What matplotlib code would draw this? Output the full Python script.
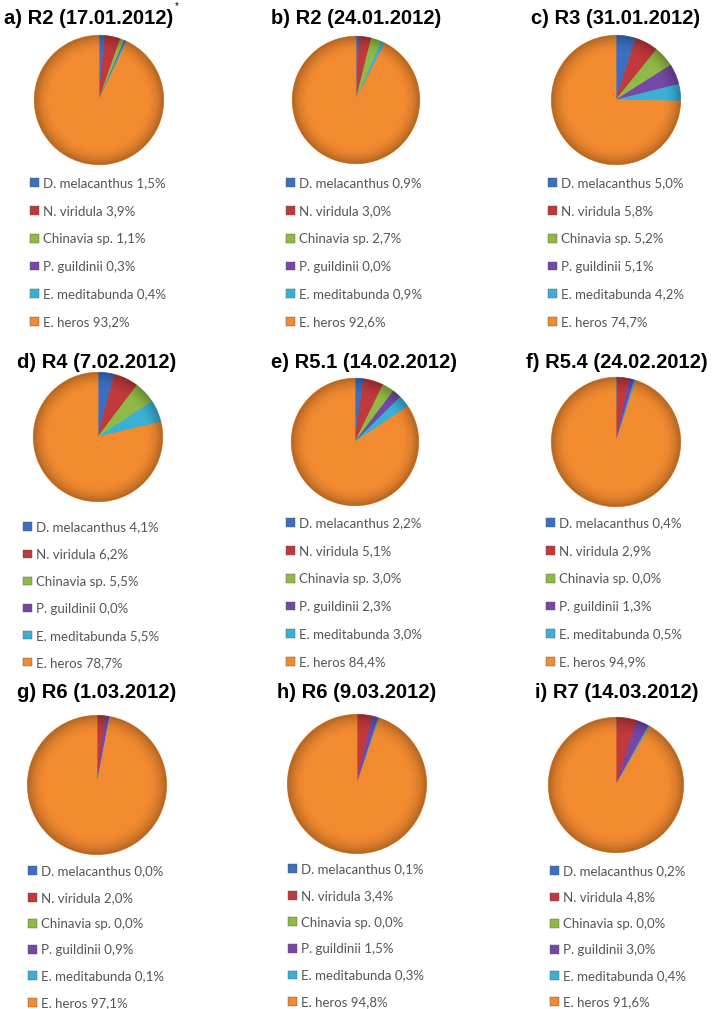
import numpy as np
import matplotlib.pyplot as plt
from matplotlib.patches import Circle

# species and colours (same order in every pie)
species = ["D. melacanthus", "N. viridula", "Chinavia sp.", "P. guildinii",
           "E. meditabunda", "E. heros"]
colors = ["#3d6fc0", "#c0393b", "#8fba45", "#7548a8", "#3bb0d6", "#f28a30"]

titles = ["a) R2 (17.01.2012)", "b) R2 (24.01.2012)", "c) R3 (31.01.2012)",
          "d) R4 (7.02.2012)", "e) R5.1 (14.02.2012)", "f) R5.4 (24.02.2012)",
          "g) R6 (1.03.2012)", "h) R6 (9.03.2012)", "i) R7 (14.03.2012)"]

# percentages per sampling date
v_a = [1.5, 3.9, 1.1, 0.3, 0.4, 93.2]
v_b = [0.9, 3.0, 2.7, 0.0, 0.9, 92.6]
v_c = [5.0, 5.8, 5.2, 5.1, 4.2, 74.7]
v_d = [4.1, 6.2, 5.5, 0.0, 5.5, 78.7]
v_e = [2.2, 5.1, 3.0, 2.3, 3.0, 84.4]
v_f = [0.4, 2.9, 0.0, 1.3, 0.5, 94.9]
v_g = [0.0, 2.0, 0.0, 0.9, 0.1, 97.1]
v_h = [0.1, 3.4, 0.0, 1.5, 0.3, 94.8]
v_i = [0.2, 4.8, 0.0, 3.0, 0.4, 91.6]
values = [v_a, v_b, v_c, v_d, v_e, v_f, v_g, v_h, v_i]

# layout in pixels: pie centre, radius, title centre, legend left/top, spacing
W, H = 712, 1009
pies = [(99, 100, 66), (356, 100, 65), (616, 100, 66),
        (98, 437, 66), (355, 442, 65), (616, 442, 66),
        (97, 785, 71), (357, 784, 71), (616, 785, 69)]
title_pos = [(89, 18), (356, 18), (616, 18),
             (97, 363), (364, 362), (617, 362),
             (97, 692), (357, 692), (617, 692)]
legend_pos = [(30, 177.5), (286, 177.5), (548, 177.5),
              (23, 521.5), (286, 517.5), (546, 517.5),
              (28, 865.5), (288, 863.5), (550, 865.5)]
spacing = [1.19, 1.19, 1.19, 1.14, 1.19, 1.19, 1.08, 1.1, 1.07]

fig = plt.figure(figsize=(W / 100, H / 100), dpi=100)

# radial darkening used for the "3-D" look of the original pies
g = np.linspace(-1, 1, 300)
xx, yy = np.meshgrid(g, g)
rr = np.sqrt(xx ** 2 + yy ** 2)
shade = np.zeros((300, 300, 4))
shade[..., 3] = 0.28 * np.clip((rr - 0.72) / 0.28, 0, 1) ** 2

for k in range(9):
    cx, cy, r = pies[k]
    ax = fig.add_axes([(cx - r) / W, 1 - (cy + r) / H, 2 * r / W, 2 * r / H])
    wedges, _ = ax.pie(values[k], colors=colors, startangle=90,
                       counterclock=False, radius=1,
                       wedgeprops=dict(linewidth=0.6))
    for w, c, v in zip(wedges, colors, values[k]):
        w.set_edgecolor(c)
        if v == 0:
            w.set_visible(False)
    im = ax.imshow(shade, extent=[-1, 1, -1, 1], zorder=5)
    im.set_clip_path(Circle((0, 0), 1, transform=ax.transData))
    ax.set_xlim(-1.02, 1.02)
    ax.set_ylim(-1.02, 1.02)
    ax.set_aspect("equal")
    ax.axis("off")

    labels = [f"{s} " + f"{v:.1f}".replace(".", ",") + "%"
              for s, v in zip(species, values[k])]
    handles = [plt.Rectangle((0, 0), 1, 1, facecolor=c, edgecolor="#555555",
                             linewidth=0.3) for c in colors]
    lx, ly = legend_pos[k]
    fig.legend(handles, labels, loc="upper left",
               bbox_to_anchor=(lx / W, 1 - ly / H), frameon=False,
               prop={"family": "Lato", "size": 9.5}, labelcolor="#555555",
               handlelength=0.65, handleheight=0.65, handletextpad=0.3,
               labelspacing=spacing[k], borderpad=0, borderaxespad=0)

    tx, ty = title_pos[k]
    fig.text(tx / W, 1 - ty / H, titles[k], ha="center", va="center",
             fontsize=14.5, fontweight="bold", family="Liberation Sans")

# asterisk on the first title
fig.text(175 / W, 1 - 6 / H, "*", ha="left", va="center", fontsize=7,
         family="Liberation Sans")

fig.savefig("out.png", dpi=100, facecolor="white")
